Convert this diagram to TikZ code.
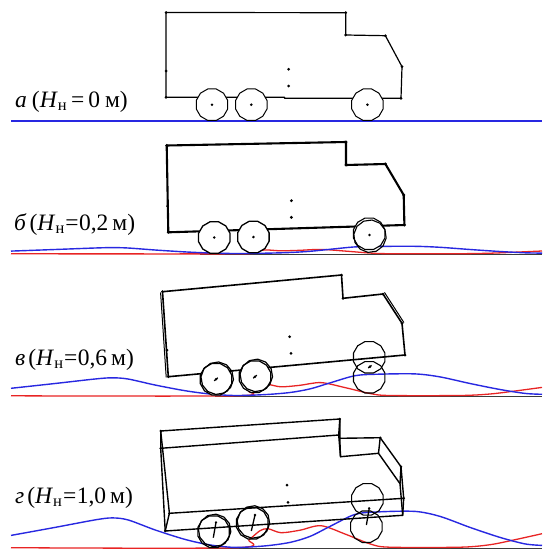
\documentclass[tikz,border=0pt]{standalone}
\usepackage{fontspec}
\setmainfont{Liberation Serif}
\definecolor{roadblue}{RGB}{40,40,225}
\definecolor{roadred}{RGB}{232,36,36}
\definecolor{basegray}{RGB}{60,60,60}
% road profiles (height above the base line, y grows downwards)
\newcommand\bprof{(11,-12) (55,-20) (95,-27.5) (112,-29.5) (128,-27.5) (155,-17.5) (185,-8) (210,-2.5) (235,0) (265,-1.5) (290,-5) (310,-11) (330,-21) (355,-33) (378,-35.5) (415,-36) (440,-31) (470,-20) (500,-10) (525,-3.5) (542,-2)}
\newcommand\rprof{(11,0) (236,0) (249,-8) (260,-17) (268,-19) (281,-15) (300,-17.5) (321,-22) (346,-13.3) (371,-3.5) (390,-0.5) (460,-0.5) (490,-3) (515,-8) (542,-14)}
\begin{document}
\begin{tikzpicture}[x=1pt,y=-1pt,
  blueroad/.style={draw=roadblue,line width=1.4pt,line join=round},
  redroad/.style={draw=roadred,line width=1.3pt,line join=round},
  baseline/.style={draw=basegray,line width=0.9pt},
  body/.style={draw=black,line join=round,line cap=round},
  vtx/.style={fill=black},
  lbl/.style={anchor=base west,inner sep=0pt,font=\fontsize{23.5}{26}\selectfont},
  wheel/.pic={\draw[pic actions] (15:16.3) \foreach \a in {45,75,...,345}{ -- (\a:16.3)} -- cycle;},
  hub/.pic={\fill (0,0) circle (1.4);}
]
\useasboundingbox (0,0) rectangle (542,549);
\edef\blueplot{\noexpand\draw[blueroad] plot[smooth,tension=0.5] coordinates {\bprof};}
\edef\redplot{\noexpand\draw[redroad] plot[smooth,tension=0.5] coordinates {\rprof};}

% ---------------- a ----------------
\draw[blueroad] (11,121) -- (542,121);
\draw[body,line width=1.2pt] (166,12.5) -- (345.7,12.7) -- (345.7,35) -- (385.4,35.7)
  -- (402,66.7) -- (401,98.3) -- (284.5,98.3) -- (284.5,97.3) -- (166,97.3) -- cycle;
\foreach \p in {(166,12.5),(345.7,12.7),(345.7,35),(385.4,35.7),(402,66.7),(401,98.3),(166,97.3),(166,71)}
  \fill[vtx] \p circle (1.5);
\fill (288.6,69.3) circle (1.5) (288.6,86) circle (1.5);
\foreach \wa in {(212,104.7),(251.3,104.7),(367.4,104.7)}{
  \pic[fill=white,line width=1pt] at \wa {wheel};
  \pic at \wa {hub};}
\node[lbl] (labA) at (15,107) {\textit{а}\hspace{5pt}(\textit{H}\textsubscript{н}\hspace{4pt}=\hspace{4pt}0\hspace{5pt}м)};

% ---------------- b ----------------
\draw[baseline] (200,254.3) -- (542,254.3);
\begin{scope}[shift={(0,253.8)},yscale=0.2] \redplot \end{scope}
\begin{scope}[shift={(0,253.5)},yscale=0.2] \blueplot \end{scope}
\draw[body,line width=2.1pt] (166.7,145.5) -- (346,142) -- (346,165) -- (385.4,164)
  -- (403.7,195) -- (404.4,225) -- (168.3,232.3) -- cycle;
\foreach \p in {(166.7,145.5),(346,142),(346,165),(385.4,164),(403.7,195),(404.4,225),(168.3,232.3),(167.6,206)}
  \fill[vtx] \p circle (1.6);
\fill (291.4,200.7) circle (1.6) (291.4,217.3) circle (1.6);
\foreach \wa in {(214.3,237.5),(253.4,237)}{
  \pic[fill=white,line width=1.3pt] at \wa {wheel};
  \pic at \wa {hub};}
\pic[fill=white,line width=1.1pt] at (369.2,233.8) {wheel};
\pic[line width=1.1pt,rotate=8] at (370,236.2) {wheel};
\pic at (369.5,235) {hub};
\node[lbl] (labB) at (14,230) {\textit{б}\hspace{3pt}(\textit{H}\textsubscript{н}\hspace{0.5pt}=\hspace{0.5pt}0,2\hspace{4pt}м)};

% ---------------- c ----------------
\draw[baseline] (215,396.3) -- (542,396.3);
\begin{scope}[shift={(0,395.8)},yscale=0.6] \redplot \end{scope}
\begin{scope}[shift={(0,395.5)},yscale=0.6] \blueplot \end{scope}
\draw[body,line width=1.6pt] (162.5,291.7) -- (341.5,275) -- (343,298.3) -- (383,294)
  -- (402,323.3) -- (405,355) -- (168.3,376.7) -- cycle;
\draw[body,line width=1pt] (160.6,292.8) -- (166.2,377.2);
\draw[body,line width=1pt] (384.6,292.6) -- (403.8,322.4);
\foreach \p in {(162.5,291.7),(341.5,275),(343,298.3),(383,294),(402,323.3),(405,355),(168.3,376.7),(167,350)}
  \fill[vtx] \p circle (1.5);
\fill (289.7,336.7) circle (1.5) (291,353.3) circle (1.5);
\foreach \wa/\wb in {{(216,379.3)}/{(217.2,378.2)},{(255,376.7)}/{(256.3,375.4)}}{
  \pic[fill=white,line width=1.2pt] at \wa {wheel};
  \pic[line width=1.2pt,rotate=10] at \wb {wheel};
  \pic at \wa {hub};}
\draw[line width=1.2pt] (214.2,380.8) -- (217.8,377.8) (253.2,378.2) -- (256.8,375.2);
\pic[line width=1.1pt] at (369.2,357.3) {wheel};
\pic[line width=1.1pt] at (369.2,377.3) {wheel};
\pic at (369.9,366.7) {hub};
\draw[line width=1.2pt] (368.2,368) -- (371.6,365.4);
\node[lbl] (labC) at (15,365) {\textit{в}\hspace{3pt}(\textit{H}\textsubscript{н}\hspace{0.5pt}=\hspace{0.5pt}0,6\hspace{4pt}м)};

% ---------------- d ----------------
\draw[baseline] (200,548.2) -- (542,548.2);
\begin{scope}[shift={(0,547.7)},yscale=1] \redplot \end{scope}
\begin{scope}[shift={(0,547.4)},yscale=1] \blueplot \end{scope}
% far side and near side of the wire-frame body
\draw[body,line width=1.4pt] (160.7,431) -- (339.8,419) -- (339.8,438.3) -- (380.2,437.7)
  -- (401,466.7) -- (403.7,498.3) -- (169.4,513.3) -- cycle;
\draw[body,line width=1.4pt] (160.7,448.3) -- (338.7,435) -- (340.5,456.7) -- (378.5,453.3)
  -- (400,483.7) -- (402.7,515.3) -- (165.2,531) -- cycle;
\draw[body,line width=1.4pt] (160.7,431) -- (160.7,448.3) (339.8,419) -- (338.7,435)
  (339.8,438.3) -- (340.5,456.7) (380.2,437.7) -- (378.5,453.3) (401,466.7) -- (400,483.7)
  (403.7,498.3) -- (402.7,515.3) (169.4,513.3) -- (165.2,531);
\foreach \p in {(160.7,431),(339.8,419),(380.2,437.7),(401,466.7),(403.7,498.3),(160.7,448.3),(165.2,531),(169.4,513.3)}
  \fill[vtx] \p circle (1.4);
\fill (287,485) circle (1.5) (288,502.3) circle (1.5);
\foreach \wa/\wb in {{(213.6,531.7)}/{(214.6,530.4)},{(252.3,523.3)}/{(253.4,522)}}{
  \pic[line width=1.2pt] at \wa {wheel};
  \pic[line width=1.2pt,rotate=10] at \wb {wheel};}
\pic[line width=1.1pt] at (367.4,499.3) {wheel};
\pic[line width=1.1pt] at (366.4,526.7) {wheel};
\draw[line width=1.3pt] (216,522.3) -- (213.3,537.7) (255,515) -- (251.3,531) (369.2,508.3) -- (366.4,525);
\fill (216,522.3) circle (1.3) (255,515) circle (1.3) (369.2,508.3) circle (1.3);
\node[lbl] (labD) at (15,503) {\textit{г}\hspace{3pt}(\textit{H}\textsubscript{н}\hspace{0.5pt}=\hspace{0.5pt}1,0\hspace{4pt}м)};
\end{tikzpicture}
\end{document}
